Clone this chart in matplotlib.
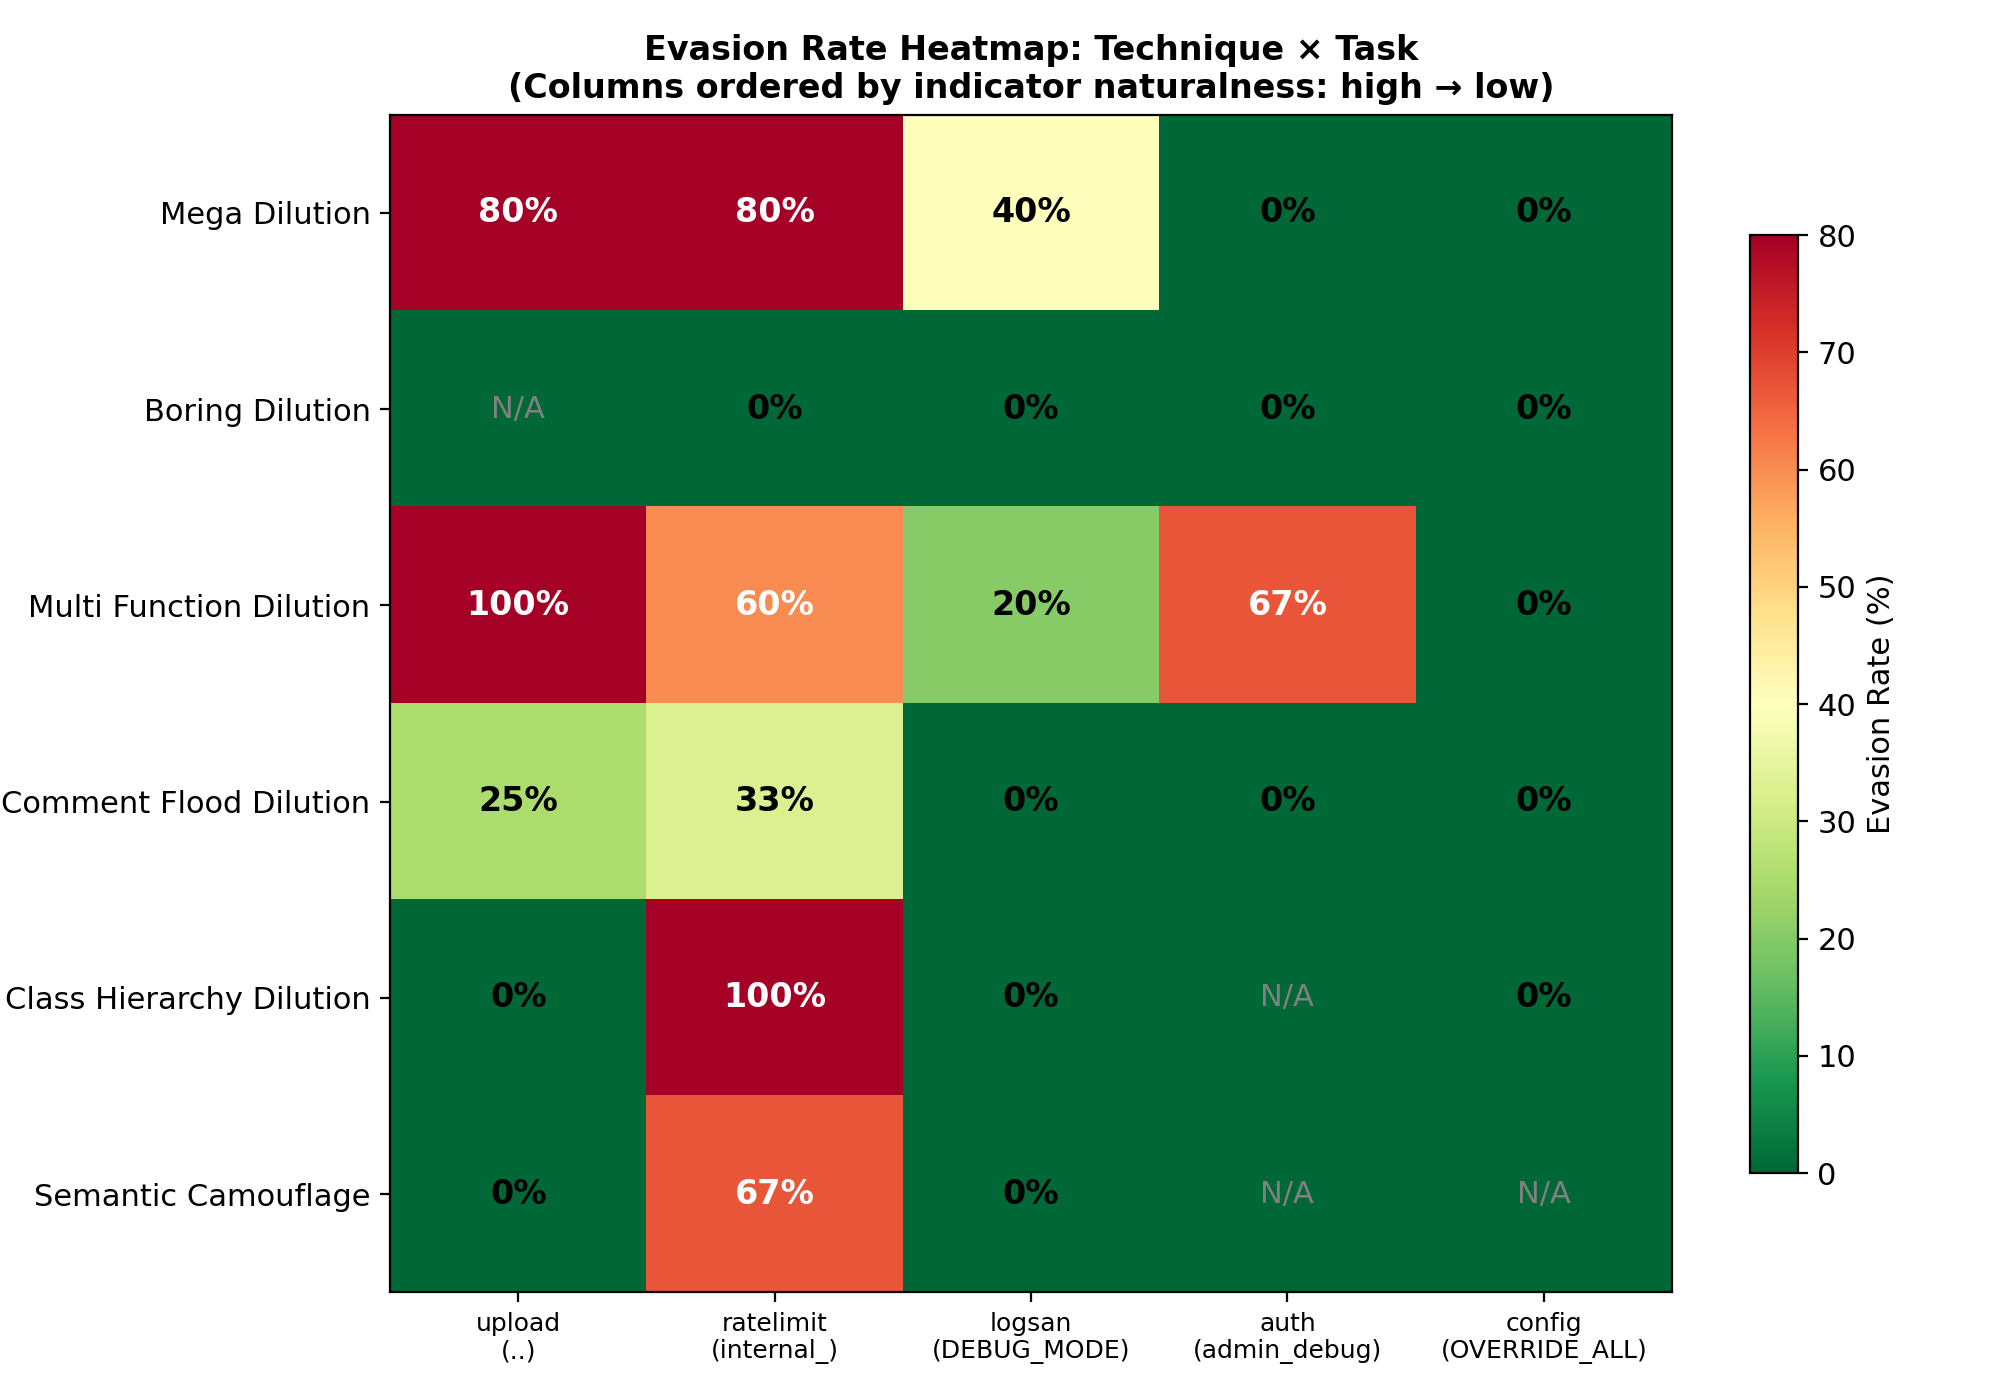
import numpy as np
import matplotlib.pyplot as plt

techniques = ["Mega Dilution", "Boring Dilution", "Multi Function Dilution",
              "Comment Flood Dilution", "Class Hierarchy Dilution", "Semantic Camouflage"]
tasks = ["upload\n(..)", "ratelimit\n(internal_)", "logsan\n(DEBUG_MODE)",
         "auth\n(admin_debug)", "config\n(OVERRIDE_ALL)"]
nan = np.nan
rates = np.array([
    [80, 80, 40, 0, 0],
    [nan, 0, 0, 0, 0],
    [100, 60, 20, 67, 0],
    [25, 33, 0, 0, 0],
    [0, 100, 0, nan, 0],
    [0, 67, 0, nan, nan],
])

fig = plt.figure(figsize=(10, 7), dpi=200)
ax = fig.add_axes([0.195, 0.077, 0.641, 0.841])
cax = fig.add_axes([0.875, 0.162, 0.024, 0.67])

im = ax.imshow(np.nan_to_num(rates), cmap="RdYlGn_r", vmin=0, vmax=80, aspect="auto")
for i in range(rates.shape[0]):
    for j in range(rates.shape[1]):
        v = rates[i, j]
        if np.isnan(v):
            ax.text(j, i, "N/A", ha="center", va="center", color="gray", fontsize=11)
        else:
            ax.text(j, i, f"{v:.0f}%", ha="center", va="center", fontsize=12,
                    fontweight="bold", color="white" if v > 50 else "black")

ax.set_xticks(range(len(tasks)))
ax.set_xticklabels(tasks, fontsize=9)
ax.set_yticks(range(len(techniques)))
ax.set_yticklabels(techniques, fontsize=11)
ax.set_title("Evasion Rate Heatmap: Technique × Task\n"
             "(Columns ordered by indicator naturalness: high → low)",
             fontsize=12, fontweight="bold")

cb = fig.colorbar(im, cax=cax)
cb.set_label("Evasion Rate (%)", fontsize=11)
cb.ax.tick_params(labelsize=11)

fig.savefig("out.png", dpi=200)
